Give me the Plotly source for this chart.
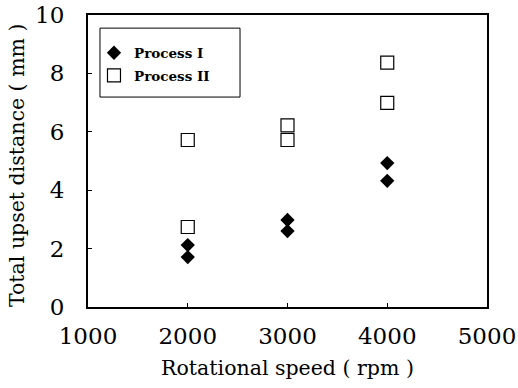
import plotly.graph_objects as go

p1_x = [2000, 2000, 3000, 3000, 4000, 4000]
p1_y = [2.12, 1.71, 2.98, 2.60, 4.93, 4.32]
p2_x = [2000, 2000, 3000, 3000, 4000, 4000]
p2_y = [5.72, 2.74, 6.22, 5.72, 8.37, 6.99]
x_ticks = [1000, 2000, 3000, 4000, 5000]
y_ticks = [0, 2, 4, 6, 8, 10]

fig = go.Figure()
fig.add_trace(go.Scatter(x=p1_x, y=p1_y, mode="markers", name="Process I",
                         legendgroup="a",
                         marker=dict(symbol="diamond", size=11, color="black")))
fig.add_trace(go.Scatter(x=p2_x, y=p2_y, mode="markers", name="Process II",
                         legendgroup="b",
                         marker=dict(symbol="square-open", size=13, color="black",
                                     line=dict(width=1.2, color="black"))))

fig.update_layout(
    width=518, height=388,
    margin=dict(l=88, r=31, t=15, b=81),
    plot_bgcolor="white", paper_bgcolor="white",
    showlegend=True,
    legend=dict(x=0.015, y=0.923, xanchor="left", yanchor="top",
                bgcolor="rgba(0,0,0,0)", borderwidth=0,
                font=dict(family="DejaVu Serif", size=13.5, color="black",
                          weight="bold"),
                tracegroupgap=2, itemwidth=30),
    font=dict(family="DejaVu Serif", color="black"),
    shapes=[dict(type="rect", xref="paper", yref="paper",
                 x0=0.030, x1=0.381, y0=0.719, y1=0.955,
                 line=dict(color="black", width=1), fillcolor="white", layer="below")],
    annotations=[dict(text="Total upset distance ( mm )", xref="paper", yref="paper",
                      x=-0.178, y=0.486, xanchor="center", yanchor="middle",
                      textangle=-90, showarrow=False,
                      font=dict(family="DejaVu Serif", size=20.5, color="black"))],
)
fig.update_xaxes(range=[1000, 5000], tickvals=x_ticks, automargin=False,
                 showgrid=False, zeroline=False, showline=True, linecolor="black",
                 linewidth=1.5, mirror=True, ticks="inside", ticklen=4,
                 tickcolor="black", ticklabelstandoff=8,
                 tickfont=dict(family="DejaVu Serif", size=23),
                 title=dict(text="Rotational speed ( rpm )",
                            font=dict(family="DejaVu Serif", size=20.5), standoff=12))
fig.update_yaxes(range=[0, 10], tickvals=y_ticks, automargin=False,
                 ticktext=[f"{v}\u2002\u2005\u200b" for v in y_ticks],
                 showgrid=False, zeroline=False, showline=True, linecolor="black",
                 linewidth=1.5, mirror=True, ticks="inside", ticklen=4,
                 tickcolor="black",
                 tickfont=dict(family="DejaVu Serif", size=23))

fig.write_html("out.html")
